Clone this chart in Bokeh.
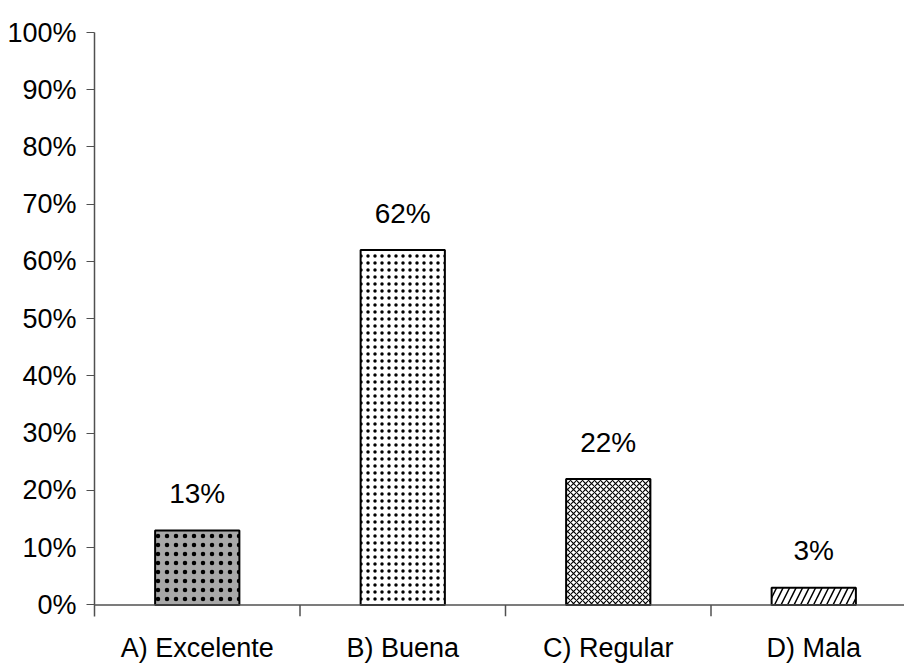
from bokeh.plotting import figure
from bokeh.models import Range1d, FixedTicker, NumeralTickFormatter, Span, ColumnDataSource
from bokeh.core.properties import value
from bokeh.embed import file_html
from bokeh.resources import INLINE

categories = ["A) Excelente", "B) Buena", "C) Regular", "D) Mala"]
values = [0.13, 0.62, 0.22, 0.03]
labels = ["13%", "62%", "22%", "3%"]
hatches = ["dot", "dot", "diagonal_cross", "right_diagonal_line"]
hatch_scales = [9, 7, 6, 13]
hatch_weights = [1, 1, 1.1, 1.5]
fills = ["#a8a8a8", "white", "white", "white"]

FONT = "Liberation Sans"
n = len(categories)
centers = [i + 0.5 for i in range(n)]

W, H = 904, 671
LEFT, TOP = 94, 32
p = figure(width=W, height=H, output_backend="svg", toolbar_location=None,
           x_range=Range1d(0, (W - LEFT) / 205.5), y_range=Range1d(-0.0201, 1.0),
           min_border_left=LEFT, min_border_right=0, min_border_top=TOP,
           min_border_bottom=H - TOP - 584)
p.outline_line_color = None
p.xgrid.visible = False
p.ygrid.visible = False

src = ColumnDataSource(dict(x=centers, top=values, hatch=hatches, hs=hatch_scales,
                            hw=hatch_weights, lab=labels, fill=fills))
p.vbar(x="x", top="top", bottom=0, width=0.41, source=src, fill_color="fill",
       line_color="black", line_width=2, hatch_pattern="hatch", hatch_color="black",
       hatch_scale="hs", hatch_weight="hw")

# x axis line and category boundary ticks
p.add_layout(Span(location=0, dimension="width", line_color="#505050", line_width=1.5))
bx = list(range(1, n + 1))
p.segment(x0=bx, y0=[0] * n, x1=bx, y1=[-0.0201] * n, line_color="#505050", line_width=1.5)

p.text(x="x", y="top", text="lab", source=src, text_align="center", text_baseline="middle",
       y_offset=-37, text_font=value(FONT), text_font_size="28px", text_color="black")

p.yaxis.ticker = FixedTicker(ticks=[i / 10 for i in range(11)])
p.yaxis.formatter = NumeralTickFormatter(format="0%")
p.yaxis.major_tick_out = 8
p.yaxis.major_tick_in = 0
p.yaxis.minor_tick_line_color = None
p.yaxis.axis_line_color = "#505050"
p.yaxis.axis_line_width = 1.5
p.yaxis.major_tick_line_color = "#505050"
p.yaxis.major_label_standoff = 10
p.yaxis.major_label_text_font = FONT
p.yaxis.major_label_text_font_size = "27px"
p.yaxis.major_label_text_color = "black"

p.xaxis.ticker = FixedTicker(ticks=centers)
p.xaxis.major_label_overrides = {c: lab for c, lab in zip(centers, categories)}
p.xaxis.axis_line_color = None
p.xaxis.major_tick_line_color = None
p.xaxis.minor_tick_line_color = None
p.xaxis.major_tick_out = 0
p.xaxis.major_label_standoff = 16
p.xaxis.major_label_text_font = FONT
p.xaxis.major_label_text_font_size = "27px"
p.xaxis.major_label_text_color = "black"

open("out.html", "w").write(file_html(p, INLINE))
